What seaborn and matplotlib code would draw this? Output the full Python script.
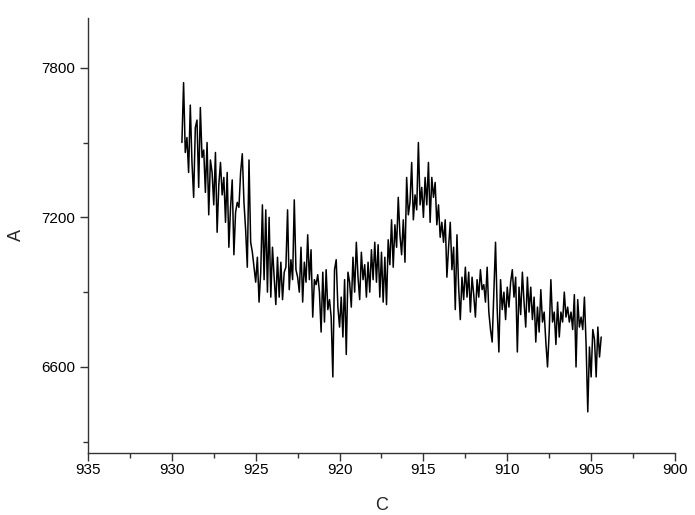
import numpy as np
import pandas as pd
import matplotlib
matplotlib.use("Agg")
import matplotlib.pyplot as plt
from matplotlib.ticker import MultipleLocator
import seaborn as sns

# binding energy grid: 929.4 down to 904.4 in 0.1 steps
energy_start = 929.4
energy_step = 0.1

# intensity, split in pieces along the scan
counts_929_926 = [
    7500, 7740, 7460, 7520, 7380, 7650, 7420, 7280, 7560, 7590,
    7320, 7640, 7440, 7470, 7300, 7500, 7210, 7430, 7380, 7250,
    7460, 7140, 7330, 7420, 7290, 7360, 7180, 7380, 7080, 7240,
    7350, 7050, 7220, 7260,
]
counts_926_922 = [
    7240, 7380, 7455, 7260, 7150, 7000, 7430, 7100, 7060, 7000,
    6940, 7040, 6860, 6980, 7250, 6950, 7230, 6900, 7200, 6880,
    7080, 6960, 6850, 7040, 6880, 7020, 6870, 6980, 7000, 7230,
    6910, 7030, 6950, 7270, 6990, 6960, 6900,
]
counts_922_918 = [
    7080, 6860, 7020, 6940, 7130, 6950, 7070, 6800, 6950, 6930,
    6970, 6900, 6740, 6980, 6780, 6990, 6830, 6870, 6800, 6560,
    6990, 7030, 6840, 6760, 6880, 6720, 6950, 6650, 6980, 6940,
    6840, 7040, 6900, 7100, 6960, 6870, 7060, 6950, 7010, 6880,
    7020, 6900, 7070, 6950,
]
counts_918_913 = [
    7100, 6940, 7090, 6880, 7060, 6860, 7040, 6850, 7110, 7010,
    7190, 7000, 7170, 7080, 7280, 7130, 7050, 7190, 7020, 7360,
    7210, 7260, 7420, 7190, 7290, 7230, 7500, 7250, 7320, 7200,
    7360, 7250, 7420, 7180, 7360, 7280, 7340, 7170, 7250, 7120,
    7180, 7100, 7190, 6960, 7080,
]
counts_913_909 = [
    7180, 6990, 7080, 6830, 7130, 6920, 6790, 6960, 6870, 7000,
    6880, 6980, 6820, 6960, 6890, 6800, 6950, 6880, 6990, 6910,
    6930, 6860, 7000, 6820, 6750, 6700, 6900, 7100, 6830, 6660,
    6950, 6830, 6900, 6790, 6920, 6840, 6940, 6990, 6880, 6960,
    6660, 6920, 6810, 6980, 6860,
]
counts_909_904 = [
    6760, 6960, 6820, 6920, 6790, 6880, 6700, 6840, 6740, 6910,
    6780, 6820, 6700, 6600, 6740, 6950, 6780, 6820, 6690, 6860,
    6720, 6820, 6780, 6900, 6800, 6840, 6780, 6820, 6750, 6890,
    6600, 6870, 6760, 6800, 6750, 6880, 6690, 6420, 6680, 6560,
    6750, 6710, 6560, 6760, 6640, 6720,
]

counts = (counts_929_926 + counts_926_922 + counts_922_918
          + counts_918_913 + counts_913_909 + counts_909_904)
energy = energy_start - energy_step * np.arange(len(counts))
df = pd.DataFrame({"C": energy, "A": counts})

sns.set_style("ticks")
plt.rcParams["font.family"] = ["Liberation Sans", "DejaVu Sans"]

fig = plt.figure(figsize=(6.95, 5.15), dpi=100)
ax = fig.add_axes([0.1266, 0.1204, 0.8446, 0.845])

sns.lineplot(data=df, x="C", y="A", ax=ax, color="black", linewidth=1.1,
             estimator=None, sort=False)

ax.set_xlim(935, 900)
ax.set_ylim(6255, 8000)
ax.xaxis.set_major_locator(MultipleLocator(5))
ax.xaxis.set_minor_locator(MultipleLocator(2.5))
ax.set_yticks([6600, 7200, 7800])
ax.set_yticks([6300, 6900, 7500], minor=True)

ax.tick_params(axis="both", which="major", direction="out", length=6,
               width=1, colors="#333333", labelcolor="black", labelsize=11)
ax.tick_params(axis="both", which="minor", direction="out", length=3.5,
               width=1, colors="#333333")
ax.tick_params(axis="x", which="major", pad=1.5)
ax.tick_params(axis="y", which="major", pad=3)
for side in ["top", "right"]:
    ax.spines[side].set_visible(False)
for side in ["left", "bottom"]:
    ax.spines[side].set_color("#333333")
    ax.spines[side].set_linewidth(1.0)

ax.set_xlabel("C", fontsize=13, labelpad=14)
ax.set_ylabel("A", fontsize=13, labelpad=12)

fig.savefig("out.png", dpi=100)
